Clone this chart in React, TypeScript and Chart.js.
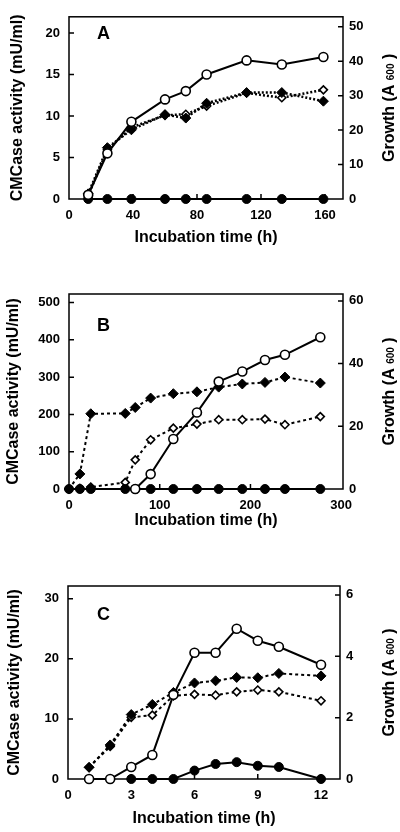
import React, { useEffect, useRef } from "react";
import { Chart, registerables } from "chart.js";

Chart.register(...registerables);

// ---------- Panel A ----------
const timeA = [12, 24, 39, 60, 73, 86, 111, 133, 159];
const openCircleA = [0.5, 5.5, 9.3, 12.0, 13.0, 15.0, 16.7, 16.2, 17.1];
const filledCircleA = [0, 0, 0, 0, 0, 0, 0, 0, 0];
const filledDiamondA = [1.5, 14.9, 20.1, 24.5, 23.5, 27.8, 30.9, 30.9, 28.4];
const openDiamondA = [1.0, 14.3, 20.8, 24.3, 24.6, 27.0, 30.8, 29.4, 31.7];
const xTicksA = [0, 40, 80, 120, 160];
const leftTicksA = [0, 5, 10, 15, 20];
const rightTicksA = [0, 10, 20, 30, 40, 50];

// ---------- Panel B ----------
const timeB = [0, 12, 24, 62, 73, 90, 115, 141, 165, 191, 216, 238, 277];
const openCircleB = [null, null, null, null, 0, 40, 134, 205, 288, 315, 346, 360, 407];
const filledCircleB = [0, 0, 0, 0, 0, 0, 0, 0, 0, 0, 0, 0, 0];
const filledDiamondB = [0, 4.8, 24.0, 24.1, 26.0, 29.0, 30.4, 31.0, 32.5, 33.5, 34.0, 35.7, 33.8];
const openDiamondB = [0, 0.2, 0.6, 2.1, 9.3, 15.7, 19.4, 20.7, 22.1, 22.1, 22.3, 20.5, 23.1];
const xTicksB = [0, 100, 200, 300];
const leftTicksB = [0, 100, 200, 300, 400, 500];
const rightTicksB = [0, 20, 40, 60];

// ---------- Panel C ----------
const timeC = [1, 2, 3, 4, 5, 6, 7, 8, 9, 10, 12];
const openCircleC = [0, 0, 2, 4, 14, 21, 21, 25, 23, 22, 19];
const filledCircleC = [null, null, 0, 0, 0, 1.4, 2.5, 2.8, 2.2, 2.0, 0];
const filledDiamondC = [0.38, 1.11, 2.1, 2.43, 2.82, 3.13, 3.2, 3.31, 3.3, 3.44, 3.36];
const openDiamondC = [0.38, 1.06, 2.01, 2.08, 2.71, 2.76, 2.73, 2.84, 2.9, 2.84, 2.55];
const xTicksC = [0, 3, 6, 9, 12];
const leftTicksC = [0, 10, 20, 30];
const rightTicksC = [0, 2, 4, 6];

const FONT = '"Liberation Sans", Arial, Helvetica, sans-serif';

type PanelCfg = {
  top: number;
  height: number;
  padTop: number;
  xAxisH: number;
  leftW: number;
  rightW: number;
  xMax: number;
  yMax: number;
  y1Max: number;
  xTicks: number[];
  yTicks: number[];
  y1Ticks: number[];
  time: number[];
  openCircle: (number | null)[];
  filledCircle: (number | null)[];
  filledDiamond: (number | null)[];
  openDiamond: (number | null)[];
  letter: string;
  letterY: number;
  yTitlePad: number;
  xTitlePad: number;
  dash: number[];
  dashWidth: number;
};

const panels: PanelCfg[] = [
  {
    top: 0, height: 277, padTop: 4, xAxisH: 78, leftW: 69, rightW: 57,
    xMax: 171.25, yMax: 21.95, y1Max: 52.9,
    xTicks: xTicksA, yTicks: leftTicksA, y1Ticks: rightTicksA,
    time: timeA, openCircle: openCircleA, filledCircle: filledCircleA,
    filledDiamond: filledDiamondA, openDiamond: openDiamondA,
    letter: "A", letterY: 39, yTitlePad: 8, xTitlePad: 30, dash: [2, 2], dashWidth: 2.5,
  },
  {
    top: 277, height: 277, padTop: 17, xAxisH: 65, leftW: 69, rightW: 57,
    xMax: 302, yMax: 523, y1Max: 62.2,
    xTicks: xTicksB, yTicks: leftTicksB, y1Ticks: rightTicksB,
    time: timeB, openCircle: openCircleB, filledCircle: filledCircleB,
    filledDiamond: filledDiamondB, openDiamond: openDiamondB,
    letter: "B", letterY: 54, yTitlePad: 4, xTitlePad: 24, dash: [3, 3], dashWidth: 2,
  },
  {
    top: 554, height: 278, padTop: 32, xAxisH: 53, leftW: 68, rightW: 60,
    xMax: 12.9, yMax: 32.1, y1Max: 6.29,
    xTicks: xTicksC, yTicks: leftTicksC, y1Ticks: rightTicksC,
    time: timeC, openCircle: openCircleC, filledCircle: filledCircleC,
    filledDiamond: filledDiamondC, openDiamond: openDiamondC,
    letter: "C", letterY: 66, yTitlePad: 5, xTitlePad: 4, dash: [3, 3], dashWidth: 2,
  },
];

const framePlugin = {
  id: "frame",
  beforeDatasetsDraw(chart: any, _args: any, opts: any) {
    const { ctx, chartArea: a, scales } = chart;
    ctx.save();
    ctx.strokeStyle = "#000";
    ctx.lineWidth = 1.5;
    ctx.strokeRect(a.left, a.top, a.right - a.left, a.bottom - a.top);
    const L = 5;
    ctx.beginPath();
    scales.x.ticks.forEach((t: any) => {
      const px = scales.x.getPixelForValue(t.value);
      if (px > a.left + 2 && px < a.right - 2) {
        ctx.moveTo(px, a.bottom);
        ctx.lineTo(px, a.bottom - L);
      }
    });
    scales.y.ticks.forEach((t: any) => {
      const py = scales.y.getPixelForValue(t.value);
      if (py > a.top + 2 && py < a.bottom - 2) {
        ctx.moveTo(a.left, py);
        ctx.lineTo(a.left + L, py);
      }
    });
    scales.y1.ticks.forEach((t: any) => {
      const py = scales.y1.getPixelForValue(t.value);
      if (py > a.top + 2 && py < a.bottom - 2) {
        ctx.moveTo(a.right, py);
        ctx.lineTo(a.right - L, py);
      }
    });
    ctx.stroke();

    // panel letter
    ctx.fillStyle = "#000";
    ctx.font = `bold 18px ${FONT}`;
    ctx.textAlign = "left";
    ctx.textBaseline = "alphabetic";
    ctx.fillText(opts.letter, 97, opts.letterY);

    // right axis title, reading bottom-to-top, with small "600"
    const big = `bold 16px ${FONT}`;
    const small = `bold 10px ${FONT}`;
    const p1 = "Growth (A ";
    const p2 = "600";
    const p3 = " )";
    ctx.font = big;
    const w1 = ctx.measureText(p1).width;
    const w3 = ctx.measureText(p3).width;
    ctx.font = small;
    const w2 = ctx.measureText(p2).width;
    const total = w1 + w2 + w3;
    const cy = (a.top + a.bottom) / 2;
    ctx.translate(394, cy);
    ctx.rotate(-Math.PI / 2);
    let x = -total / 2;
    ctx.font = big;
    ctx.fillText(p1, x, 0);
    x += w1;
    ctx.font = small;
    ctx.fillText(p2, x, 0);
    x += w2;
    ctx.font = big;
    ctx.fillText(p3, x, 0);
    ctx.restore();
  },
};

function Panel({ cfg }: { cfg: PanelCfg }) {
  const ref = useRef<HTMLCanvasElement | null>(null);

  useEffect(() => {
    if (!ref.current) return;
    const pts = (vals: (number | null)[]) =>
      cfg.time.map((t, i) => ({ x: t, y: vals[i] }));

    const tickFont = { family: FONT, size: 13, weight: "bold" as const };
    const titleFont = { family: FONT, size: 16, weight: "bold" as const };

    const chart = new Chart(ref.current, {
      type: "line",
      data: {
        datasets: [
          {
            label: "open circles",
            data: pts(cfg.openCircle) as any,
            yAxisID: "y",
            borderColor: "#000",
            borderWidth: 2,
            pointStyle: "circle",
            pointRadius: 4.5,
            pointBackgroundColor: "#fff",
            pointBorderColor: "#000",
            pointBorderWidth: 1.6,
            tension: 0,
            clip: false as any,
          },
          {
            label: "filled circles",
            data: pts(cfg.filledCircle) as any,
            yAxisID: "y",
            borderColor: "#000",
            borderWidth: 2,
            pointStyle: "circle",
            pointRadius: 4.5,
            pointBackgroundColor: "#000",
            pointBorderColor: "#000",
            pointBorderWidth: 1,
            tension: 0,
            clip: false as any,
          },
          {
            label: "filled diamonds",
            data: pts(cfg.filledDiamond) as any,
            yAxisID: "y1",
            borderColor: "#000",
            borderWidth: cfg.dashWidth,
            borderDash: cfg.dash,
            pointStyle: "rectRot",
            pointRadius: 5,
            pointBackgroundColor: "#000",
            pointBorderColor: "#000",
            pointBorderWidth: 1,
            tension: 0,
            clip: false as any,
          },
          {
            label: "open diamonds",
            data: pts(cfg.openDiamond) as any,
            yAxisID: "y1",
            borderColor: "#000",
            borderWidth: cfg.dashWidth,
            borderDash: cfg.dash,
            pointStyle: "rectRot",
            pointRadius: 4,
            pointBackgroundColor: "#fff",
            pointBorderColor: "#000",
            pointBorderWidth: 1.6,
            tension: 0,
            clip: false as any,
          },
        ],
      },
      options: {
        animation: false,
        responsive: false,
        devicePixelRatio: 1,
        layout: { padding: { top: cfg.padTop, left: 0, right: 0, bottom: 0 } },
        plugins: {
          legend: { display: false },
          tooltip: { enabled: false },
          frame: { letter: cfg.letter, letterY: cfg.letterY },
        } as any,
        scales: {
          x: {
            type: "linear",
            position: "bottom",
            min: 0,
            max: cfg.xMax,
            grid: { display: false, drawTicks: false },
            border: { display: false },
            ticks: { font: tickFont, color: "#000", padding: 9, maxRotation: 0 },
            afterBuildTicks: (s: any) => {
              s.ticks = cfg.xTicks.map((v) => ({ value: v }));
            },
            afterFit: (s: any) => {
              s.height = cfg.xAxisH;
            },
            title: {
              display: true,
              text: "Incubation time (h)",
              font: titleFont,
              color: "#000",
              padding: { top: 0, bottom: cfg.xTitlePad },
            },
          },
          y: {
            type: "linear",
            position: "left",
            min: 0,
            max: cfg.yMax,
            grid: { display: false, drawTicks: false },
            border: { display: false },
            ticks: { font: tickFont, color: "#000", padding: 9 },
            afterBuildTicks: (s: any) => {
              s.ticks = cfg.yTicks.map((v) => ({ value: v }));
            },
            afterFit: (s: any) => {
              s.width = cfg.leftW;
            },
            title: {
              display: true,
              text: "CMCase activity (mU/ml)",
              font: titleFont,
              color: "#000",
              padding: { top: cfg.yTitlePad, bottom: 0 },
            },
          },
          y1: {
            type: "linear",
            position: "right",
            min: 0,
            max: cfg.y1Max,
            grid: { display: false, drawTicks: false },
            border: { display: false },
            ticks: { font: tickFont, color: "#000", padding: 6 },
            afterBuildTicks: (s: any) => {
              s.ticks = cfg.y1Ticks.map((v) => ({ value: v }));
            },
            afterFit: (s: any) => {
              s.width = cfg.rightW;
            },
          },
        },
      } as any,
      plugins: [framePlugin as any],
    });
    return () => chart.destroy();
  }, [cfg]);

  return (
    <canvas
      ref={ref}
      width={400}
      height={cfg.height}
      style={{ position: "absolute", left: 0, top: cfg.top, width: 400, height: cfg.height, display: "block" }}
    />
  );
}

export default function App() {
  return (
    <div
      style={{
        position: "absolute",
        left: 0,
        top: 0,
        width: 400,
        height: 832,
        background: "#fff",
        overflow: "hidden",
      }}
    >
      {panels.map((p) => (
        <Panel key={p.letter} cfg={p} />
      ))}
    </div>
  );
}
